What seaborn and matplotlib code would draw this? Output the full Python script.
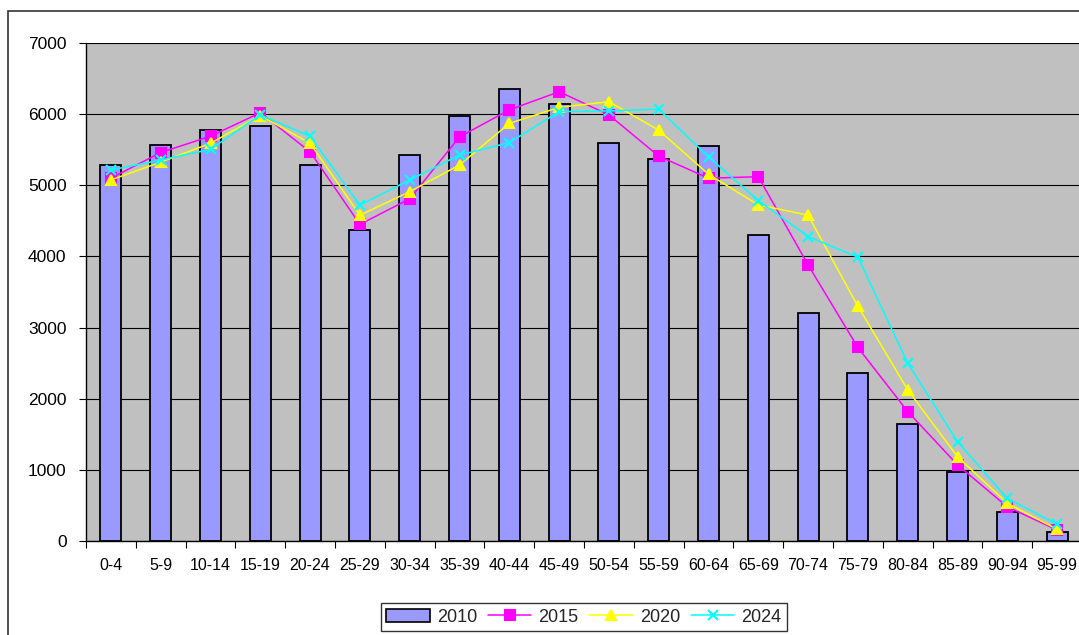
import numpy as np
import pandas as pd
import seaborn as sns
import matplotlib.pyplot as plt
from matplotlib.lines import Line2D
from matplotlib.patches import Patch, Rectangle

# Altersgruppen und Werte
age_groups = ["0-4", "5-9", "10-14", "15-19", "20-24", "25-29", "30-34", "35-39",
              "40-44", "45-49", "50-54", "55-59", "60-64", "65-69", "70-74", "75-79",
              "80-84", "85-89", "90-94", "95-99"]
pop_2010 = [5280, 5570, 5780, 5840, 5280, 4370, 5420, 5980, 6350, 6140,
            5590, 5370, 5550, 4300, 3210, 2360, 1650, 975, 410, 130]
pop_2015 = [5100, 5460, 5690, 6020, 5470, 4450, 4810, 5680, 6060, 6315,
            5990, 5410, 5100, 5120, 3880, 2720, 1820, 1070, 480, 155]
pop_2020 = [5075, 5325, 5590, 5980, 5590, 4580, 4910, 5285, 5870, 6095,
            6175, 5775, 5155, 4725, 4580, 3300, 2125, 1185, 530, 165]
pop_2024 = [5215, 5355, 5505, 5990, 5690, 4720, 5075, 5425, 5600, 6035,
            6045, 6070, 5400, 4785, 4280, 3990, 2500, 1395, 600, 235]

line_years = ["2015", "2020", "2024"]
line_colors = ["#FF00FF", "#FFFF00", "#00FFFF"]
line_markers = ["s", "^", "x"]

sns.set_theme(style="white")
plt.rcParams['font.family'] = ['Liberation Sans', 'DejaVu Sans']

fig = plt.figure(figsize=(10.79, 6.35), dpi=100)
ax = fig.add_axes([86 / 1079, 94 / 635, 996 / 1079, 498 / 635])
ax.set_facecolor("#C0C0C0")

# Balken 2010
bars = pd.DataFrame({"age": age_groups, "count": pop_2010})
sns.barplot(data=bars, x="age", y="count", color="#9999FF", saturation=1,
            width=0.42, edgecolor="black", linewidth=1.3, ax=ax)

# Linien 2015 / 2020 / 2024
lines = pd.DataFrame({
    "age": age_groups * 3,
    "count": pop_2015 + pop_2020 + pop_2024,
    "year": [y for y in line_years for _ in age_groups],
})
sns.pointplot(data=lines, x="age", y="count", hue="year", palette=line_colors,
              markers=line_markers, linestyles="-", errorbar=None, legend=False,
              markersize=7, markeredgewidth=1.5, linewidth=1.1, ax=ax)

ax.set_xlim(-0.5, 19.5)
ax.set_ylim(0, 7000)
ax.set_yticks(range(0, 7001, 1000))
ax.yaxis.grid(True, color="black", linewidth=0.8)
ax.set_axisbelow(True)
ax.set_xlabel("")
ax.set_ylabel("")

ax.set_xticks(np.arange(-0.5, 20, 1), minor=True)
ax.tick_params(axis="x", which="major", length=0, pad=12, labelsize=11.5, colors="black")
ax.tick_params(axis="x", which="minor", length=5, width=0.8, color="black", bottom=True)
ax.tick_params(axis="y", length=5, width=0.8, color="black", pad=9, labelsize=12.5,
               left=True, labelcolor="black")

for side in ["top", "right"]:
    ax.spines[side].set_visible(False)
for side in ["left", "bottom"]:
    ax.spines[side].set_color("black")
    ax.spines[side].set_linewidth(1)

# Rahmen um das Diagramm
fig.patches.append(Rectangle((8 / 1079, -0.02), 1.0, 1 - 11 / 635 + 0.02,
                             transform=fig.transFigure, fill=False,
                             edgecolor="#333333", linewidth=1.2))

handles = [Patch(facecolor="#9999FF", edgecolor="black", linewidth=1.2)]
for c, m in zip(line_colors, line_markers):
    handles.append(Line2D([0], [0], color=c, marker=m, markersize=7,
                          markeredgewidth=1.5, linewidth=1.1))
leg = fig.legend(handles, ["2010"] + line_years, loc="center",
                 bbox_to_anchor=(584 / 1079, 1 - 617 / 635), ncol=4,
                 frameon=True, fancybox=False, edgecolor="black", fontsize=13,
                 handlelength=2.4, handletextpad=0.4, columnspacing=0.6,
                 borderpad=0.3)
leg.get_frame().set_linewidth(1)

plt.savefig("out.png", dpi=100)
